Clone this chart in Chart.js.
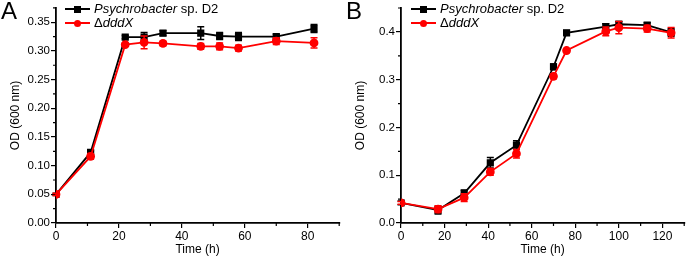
<!DOCTYPE html>
<html>
<head>
<meta charset="utf-8">
<script src="https://cdn.jsdelivr.net/npm/chart.js@4.4.0/dist/chart.umd.min.js"></script>
<style>
  body { margin: 0; background: #fff; font-family: "Liberation Sans", Arial, sans-serif; }
  .panel { position: absolute; top: 0; width: 345px; height: 257px; }
  .letra { position: absolute; top: -3px; left: 1px; font-size: 24px; color: #000; }
  .leyenda { position: absolute; font-size: 13px; color: #000; line-height: 14px; }
  .fila { position: relative; height: 14px; white-space: nowrap; }
  .linea { position: absolute; left: 0; top: 6px; width: 25px; height: 2px; }
  .marca { position: absolute; left: 9px; top: 3.5px; width: 7px; height: 7px; }
  .txt { position: absolute; left: 29px; top: 0; }
</style>
</head>
<body>
<div class="panel" style="left:0">
  <canvas id="chartA" width="345" height="257"></canvas>
  <div class="letra">A</div>
  <div class="leyenda" style="left:65px; top:2px">
    <div class="fila"><div class="linea" style="background:#000"></div><div class="marca" style="background:#000"></div><div class="txt"><i>Psychrobacter</i> sp. D2</div></div>
    <div class="fila"><div class="linea" style="background:#ff0000"></div><div class="marca" style="background:#ff0000;border-radius:50%"></div><div class="txt">Δ<i>dddX</i></div></div>
  </div>
</div>
<div class="panel" style="left:345px">
  <canvas id="chartB" width="345" height="257"></canvas>
  <div class="letra">B</div>
  <div class="leyenda" style="left:66px; top:2px">
    <div class="fila"><div class="linea" style="background:#000"></div><div class="marca" style="background:#000"></div><div class="txt"><i>Psychrobacter</i> sp. D2</div></div>
    <div class="fila"><div class="linea" style="background:#ff0000"></div><div class="marca" style="background:#ff0000;border-radius:50%"></div><div class="txt">Δ<i>dddX</i></div></div>
  </div>
</div>
<script>
// Panel A
let tiempoA = [0, 11, 22, 28, 34, 46, 52, 58, 70, 82];
let wtA = [0.050, 0.123, 0.324, 0.324, 0.331, 0.331, 0.326, 0.325, 0.325, 0.339];
let wtErrA = [0.002, 0.003, 0.003, 0.008, 0.004, 0.011, 0.006, 0.007, 0.004, 0.007];
let mutA = [0.050, 0.116, 0.311, 0.315, 0.313, 0.308, 0.308, 0.305, 0.317, 0.314];
let mutErrA = [0.002, 0.005, 0.003, 0.011, 0.004, 0.005, 0.006, 0.005, 0.006, 0.009];

// Panel B
let tiempoB = [0, 17, 29, 41, 53, 70, 76, 94, 100, 113, 124];
let wtB = [0.042, 0.027, 0.062, 0.126, 0.163, 0.327, 0.398, 0.411, 0.416, 0.414, 0.399];
let wtErrB = [0.004, 0.008, 0.007, 0.011, 0.009, 0.006, 0.005, 0.006, 0.006, 0.005, 0.008];
let mutB = [0.042, 0.029, 0.053, 0.107, 0.145, 0.307, 0.361, 0.401, 0.409, 0.407, 0.398];
let mutErrB = [0.003, 0.007, 0.008, 0.007, 0.009, 0.005, 0.004, 0.009, 0.013, 0.007, 0.011];

let fuente = '"Liberation Sans", Arial, sans-serif';

function puntos(xs, ys){
    return xs.map(function(x, i){ return {x: x, y: ys[i]}; });
}

// solo ticks multiplos del paso
function soloPasos(paso){
    return function(s){
        s.ticks = s.ticks.filter(function(t){
            var r = t.value / paso;
            return Math.abs(r - Math.round(r)) < 1e-6;
        });
    };
}

// barras de error y ticks menores
const pluginExtra = {
    id: 'extra',
    beforeDatasetDraw: function(chart, args){
        var ds = chart.data.datasets[args.index];
        var meta = args.meta;
        var sy = chart.scales.y;
        var ctx = chart.ctx;
        ctx.save();
        ctx.strokeStyle = ds.borderColor;
        ctx.lineWidth = 1.5;
        meta.data.forEach(function(p, i){
            var v = ds.data[i].y, e = ds.errores[i];
            var y1 = sy.getPixelForValue(v - e), y2 = sy.getPixelForValue(v + e);
            ctx.beginPath();
            ctx.moveTo(p.x, y1); ctx.lineTo(p.x, y2);
            ctx.moveTo(p.x - 3.5, y1); ctx.lineTo(p.x + 3.5, y1);
            ctx.moveTo(p.x - 3.5, y2); ctx.lineTo(p.x + 3.5, y2);
            ctx.stroke();
        });
        ctx.restore();
    },
    afterDraw: function(chart){
        var o = chart.options.plugins.extra;
        var sx = chart.scales.x, sy = chart.scales.y, ctx = chart.ctx;
        ctx.save();
        ctx.strokeStyle = '#000';
        ctx.lineWidth = 1.2;
        ctx.beginPath();
        for (var v = o.xMenor; v <= sx.max + 0.001; v += o.xPaso){
            var px = sx.getPixelForValue(v);
            ctx.moveTo(px, sy.bottom); ctx.lineTo(px, sy.bottom + 3);
        }
        for (var w = o.yMenor; w <= sy.max + 0.0001; w += o.yPaso){
            var py = sy.getPixelForValue(w);
            ctx.moveTo(sx.left, py); ctx.lineTo(sx.left - 3, py);
        }
        ctx.stroke();
        ctx.restore();
    }
};

function crear(id, xs, wt, wtErr, mut, mutErr, xmax, ymax, ypaso, dec, top){
    return new Chart(document.getElementById(id), {
        type: 'scatter',
        data: {
            datasets: [
                {
                    data: puntos(xs, mut), errores: mutErr, order: 0,
                    showLine: true, borderColor: '#ff0000', backgroundColor: '#ff0000',
                    borderWidth: 1.8, pointStyle: 'circle', pointRadius: 3.5
                },
                {
                    data: puntos(xs, wt), errores: wtErr, order: 1,
                    showLine: true, borderColor: '#000000', backgroundColor: '#000000',
                    borderWidth: 1.8, pointStyle: 'rect', pointRadius: 3.8
                }
            ]
        },
        options: {
            responsive: false,
            animation: false,
            layout: { padding: { top: top, right: 1, left: 0, bottom: 0 } },
            plugins: {
                legend: { display: false },
                tooltip: { enabled: false },
                extra: { xMenor: 10, xPaso: 20, yMenor: ypaso / 2, yPaso: ypaso }
            },
            scales: {
                x: {
                    type: 'linear', min: 0, max: xmax,
                    ticks: { stepSize: 20, includeBounds: false, autoSkip: false, color: '#000', font: { family: fuente, size: 12 }, padding: 1, maxRotation: 0 },
                    grid: { drawOnChartArea: false, drawTicks: true, tickLength: 5, color: '#000', lineWidth: 1.2 },
                    border: { color: '#000', width: 1.8 },
                    title: { display: true, text: 'Time (h)', color: '#000', font: { family: fuente, size: 12 }, padding: { top: 0, bottom: 0 } },
                    afterBuildTicks: soloPasos(20),
                    afterFit: function(s){ s.height = 34; }
                },
                y: {
                    min: 0, max: ymax,
                    ticks: { stepSize: ypaso, includeBounds: false, autoSkip: false, color: '#000', font: { family: fuente, size: 11.5 }, padding: 1,
                        callback: function(v){ return v.toFixed(dec); } },
                    grid: { drawOnChartArea: false, drawTicks: true, tickLength: 5, color: '#000', lineWidth: 1.2 },
                    border: { color: '#000', width: 1.8 },
                    title: { display: true, text: 'OD (600 nm)', color: '#000', font: { family: fuente, size: 12 }, padding: { top: 8, bottom: 0 } },
                    afterBuildTicks: soloPasos(ypaso),
                    afterFit: function(s){ s.width = 56; }
                }
            }
        },
        plugins: [pluginExtra]
    });
}

crear('chartA', tiempoA, wtA, wtErrA, mutA, mutErrA, 90, 0.375, 0.05, 2, 7);
crear('chartB', tiempoB, wtB, wtErrB, mutB, mutErrB, 130, 0.45, 0.1, 1, 8);
</script>
</body>
</html>
